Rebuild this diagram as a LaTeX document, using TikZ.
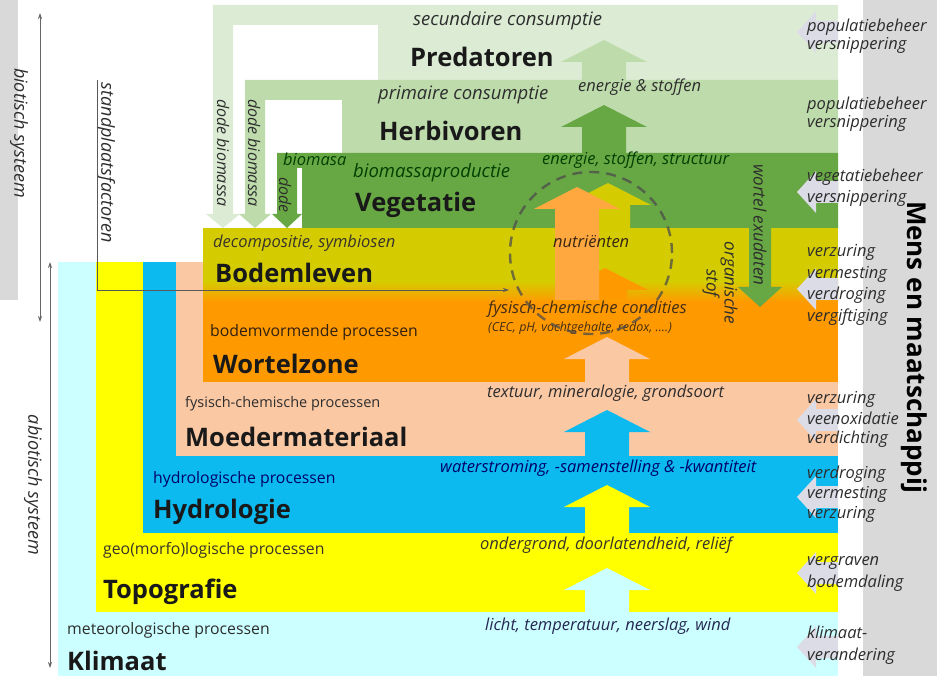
\documentclass[tikz,border=0pt]{standalone}
\usepackage{fontspec}
\setmainfont{Open Sans}
\usetikzlibrary{arrows.meta}
\usepackage{xcolor}

\definecolor{predc}{RGB}{220,236,212}
\definecolor{herbc}{RGB}{190,219,172}
\definecolor{vegc}{RGB}{104,168,68}
\definecolor{bodemc}{RGB}{212,204,0}
\definecolor{wortelc}{RGB}{255,153,0}
\definecolor{nutric}{RGB}{255,168,64}
\definecolor{moederc}{RGB}{251,200,164}
\definecolor{hydroc}{RGB}{12,186,240}
\definecolor{topoc}{RGB}{255,255,0}
\definecolor{klimc}{RGB}{204,255,255}
\definecolor{mensc}{RGB}{217,217,217}
\definecolor{chevc}{RGB}{220,220,230}
\definecolor{tekstc}{RGB}{45,45,45}

% upward flow arrow: x, tip, bottom, colour
\newcommand{\uparr}[4]{%
  \fill[#4] (#1-22,#3) -- (#1-22,#2+22) -- (#1-43,#2+22) -- (#1,#2)
    -- (#1+43,#2+22) -- (#1+22,#2+22) -- (#1+22,#3) -- cycle;}

\begin{document}
\begin{tikzpicture}[x=1pt,y=-1pt,>={Stealth[length=6pt,width=4pt]}]
    \tikzstyle{laagnaam}=[anchor=base west, inner sep=0pt, text=black!90, font=\fontsize{25.5}{30}\selectfont\bfseries]
    \tikzstyle{proces}=[anchor=base west, inner sep=0pt, text=tekstc, font=\fontsize{15.8}{18}\selectfont]
    \tikzstyle{stroom}=[anchor=base west, inner sep=0pt, text=tekstc, font=\fontsize{16.5}{19}\selectfont\itshape]
    \tikzstyle{consumptie}=[stroom, font=\fontsize{18.5}{21}\selectfont\itshape]
    \tikzstyle{ingreep}=[anchor=base west, inner sep=0pt, text=tekstc, font=\fontsize{16.5}{19}\selectfont\itshape]
    \tikzstyle{zijlabel}=[rotate=-90, inner sep=0pt, text=tekstc, font=\fontsize{18}{18}\selectfont\itshape]

    \useasboundingbox (0,0) rectangle (937,676);

    % grey side bands
    \fill[mensc] (0,0) rectangle (18,300);
    \fill[mensc] (863,0) rectangle (937,676);

    % abiotic layers
    \fill[klimc] (58,262) rectangle (838,676);
    \fill[topoc] (96,262) rectangle (838,612);
    \fill[hydroc] (143,262) rectangle (838,533);
    \fill[moederc] (176,262) rectangle (838,456);
    \fill[wortelc] (203,290) rectangle (838,382);

    % soil life, fading into the root zone
    \fill[bodemc] (203,228) rectangle (838,282);
    \shade[top color=bodemc, bottom color=wortelc] (203,281) rectangle (838,302);

    % biotic layers with their dead biomass arrows
    \fill[predc] (213,5) -- (838,5) -- (838,80) -- (378,80) -- (378,25) -- (233,25)
        -- (233,214) -- (240,214) -- (223,228) -- (206,214) -- (213,214) -- cycle;
    \fill[herbc] (245,80) -- (838,80) -- (838,153) -- (342,153) -- (342,100) -- (265,100)
        -- (265,214) -- (271,214) -- (255,228) -- (239,214) -- (245,214) -- cycle;
    \fill[vegc] (277,153) -- (838,153) -- (838,228) -- (302,228) -- (302,168) -- (297,168)
        -- (297,214) -- (302,214) -- (287,228) -- (272,214) -- (277,214) -- cycle;

    % upward flows
    \uparr{607}{568}{612}{klimc}
    \uparr{607}{485}{533}{topoc}
    \uparr{607}{410}{456}{hydroc}
    \uparr{607}{337}{382}{moederc}
    \uparr{605}{268}{300}{wortelc}
    \uparr{608}{183}{228}{bodemc}
    \uparr{577}{187}{300}{nutric}
    \uparr{604}{105}{153}{vegc}
    \uparr{604}{40}{80}{herbc}

    % root exudates going down
    \fill[vegc] (749,228) -- (749,287) -- (738,287) -- (760,307) -- (782,287) -- (771,287) -- (771,228) -- cycle;

    % human pressure arrows
    \foreach \y in {32,192,289,420,497,573,647}
        \fill[chevc] (797,\y) -- (816,\y-21) -- (816,\y-11) -- (838,\y-11)
            -- (838,\y+11) -- (816,\y+11) -- (816,\y+21) -- cycle;

    % layer names
    \node[laagnaam] (pred) at (410,67) {Predatoren};
    \node[laagnaam] (herb) at (379,141) {Herbivoren};
    \node[laagnaam] (veg) at (355,212) {Vegetatie};
    \node[laagnaam] (bodem) at (215,283) {Bodemleven};
    \node[laagnaam] (wortel) at (213,373) {Wortelzone};
    \node[laagnaam] (moeder) at (185,446) {Moedermateriaal};
    \node[laagnaam] (hydro) at (153,518) {Hydrologie};
    \node[laagnaam] (topo) at (103,598) {Topografie};
    \node[laagnaam] (klim) at (67,670) {Klimaat};

    % processes
    \node[consumptie] (sec) at (413,26) {secundaire consumptie};
    \node[consumptie] (prim) at (378,100) {primaire consumptie};
    \node[consumptie, text=black!75!green] (prod) at (353,178) {biomassaproductie};
    \node[stroom, text=black!80!olive] (decomp) at (213,248) {decompositie, symbiosen};
    \node[proces, text=black!75!brown] (bodemv) at (210,336) {bodemvormende processen};
    \node[proces, font=\fontsize{14.5}{17}\selectfont] (fysproc) at (185,407) {fysisch-chemische processen};
    \node[proces, text=blue!40!black] (hydproc) at (153,483) {hydrologische processen};
    \node[proces, text=black!80!olive] (geoproc) at (103,554) {geo(morfo)logische processen};
    \node[proces] (metproc) at (67,634) {meteorologische processen};

    % flows
    \node[stroom] (fl-pred) at (578,92) {energie \& stoffen};
    \node[stroom, text=black!75!green] (fl-herb) at (542,165) {energie, stoffen, structuur};
    \node[stroom, text=black!70!brown] (fl-nutr) at (553,248) {nutriënten};
    \node[stroom, text=black!65!brown] (fl-cond) at (488,313) {fysisch-chemische condities};
    \node[stroom, text=black!65!brown, font=\fontsize{12.5}{14}\selectfont\itshape] (fl-cec) at (488,331) {(CEC, pH, vochtgehalte, redox, ....)};
    \node[stroom] (fl-text) at (487,397) {textuur, mineralogie, grondsoort};
    \node[stroom, text=blue!40!black] (fl-water) at (440,472) {waterstroming, -samenstelling \& -kwantiteit};
    \node[stroom, text=black!80!olive] (fl-ond) at (480,549) {ondergrond, doorlatendheid, reliëf};
    \node[stroom, text=blue!20!black!85] (fl-licht) at (485,630) {licht, temperatuur, neerslag, wind};
    \node[stroom, text=black!75!green] (biomasa) at (283,166) {biomasa};

    % rotated labels
    \node[zijlabel] (biotisch) at (19,133) {biotisch systeem};
    \node[zijlabel] (abiotisch) at (33,485) {abiotisch systeem};
    \node[zijlabel] (standplaats) at (106,163) {standplaatsfactoren};
    \node[zijlabel, font=\fontsize{16}{16}\selectfont\itshape] (dode-1) at (223,153) {dode biomassa};
    \node[zijlabel, font=\fontsize{16}{16}\selectfont\itshape] (dode-2) at (254,153) {dode biomassa};
    \node[zijlabel, font=\fontsize{16}{16}\selectfont\itshape] (dode-3) at (285,195) {dode};
    \node[zijlabel, align=center, font=\fontsize{17}{16}\selectfont\itshape] (orgstof) at (720,283) {organische\\stof};
    \node[zijlabel, font=\fontsize{17}{17}\selectfont\itshape] (exudaten) at (760,225) {wortel exudaten};
    \node[rotate=-90, inner sep=0pt, font=\fontsize{26}{30}\selectfont\bfseries] (mens) at (914,347) {Mens en maatschappij};

    % human interventions
    \foreach \t/\y [count=\i] in {populatiebeheer/32, versnippering/50, populatiebeheer/110,
        versnippering/128, vegetatiebeheer/182, versnippering/203, verzuring/257,
        vermesting/279, verdroging/300, vergiftiging/322, verzuring/403, veenoxidatie/424,
        verdichting/443, verdroging/478, vermesting/498, verzuring/518, vergraven/565,
        bodemdaling/587, klimaat-/638, verandering/660}
        \node[ingreep] (ingreep-\i) at (807,\y) {\t};

    % system arrows
    \coordinate (bio-top) at (40,13);
    \coordinate (bio-bot) at (40,322);
    \coordinate (abio-top) at (50,262);
    \coordinate (abio-bot) at (50,668);
    \draw[<->, black!60, line width=0.8pt] (bio-top) -- (bio-bot);
    \draw[<->, black!60, line width=0.8pt] (abio-top) -- (abio-bot);

    % rhizosphere
    \node[circle, draw=black!70, opacity=0.75, line width=2.4pt, dash pattern=on 10pt off 7pt,
        minimum size=162pt, inner sep=0pt] (kring) at (591,253) {};

    % site factors
    \coordinate (sf-start) at (97,80);
    \coordinate (sf-hoek) at (97,290);
    \coordinate (sf-eind) at (509,290);
    \draw[->, black!65, line width=0.7pt] (sf-start) -- (sf-hoek) -- (sf-eind);
\end{tikzpicture}
\end{document}
